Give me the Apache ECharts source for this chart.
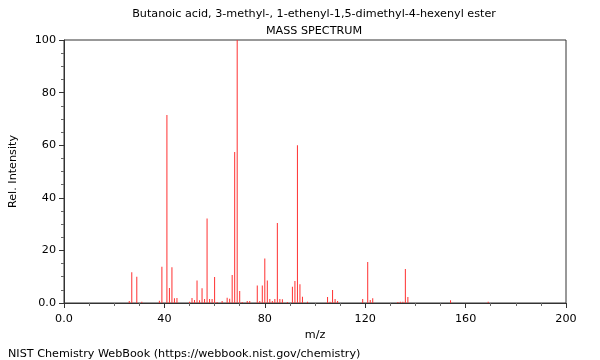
<!DOCTYPE html>
<html>
<head>
<meta charset="utf-8">
<script src="https://cdn.jsdelivr.net/npm/echarts@6/dist/echarts.min.js"></script>
<style>html,body{margin:0;padding:0;background:#fff}#c{width:600px;height:360px}</style>
</head>
<body>
<div id="c"></div>
<script>
const titleText = "Butanoic acid, 3-methyl-, 1-ethenyl-1,5-dimethyl-4-hexenyl ester";
const subTitle = "MASS SPECTRUM";
const footer = "NIST Chemistry WebBook (https://webbook.nist.gov/chemistry)";
const mz = [26,27,29,31,38,39,41,42,43,44,45,50,51,52,53,54,55,56,57,58,59,60,61,63,65,66,67,68,69,70,71,73,74,77,78,79,80,81,82,83,84,85,86,87,89,91,92,93,94,95,97,105,106,107,108,109,119,121,122,123,133,134,135,136,137,154,169];
const intensity = [0.8,11.7,10.0,0.5,0.9,13.8,71.5,5.7,13.6,1.8,1.9,0.5,1.9,1.1,8.6,1.0,5.6,1.5,32.1,1.5,1.5,9.9,0.4,0.8,2.0,1.6,10.6,57.4,100,4.6,0.4,0.8,0.8,6.7,0.8,6.7,16.9,8.6,1.5,0.8,1.5,30.4,1.5,1.4,0.4,6.2,8.4,60,7.1,2.4,0.5,2.3,0.5,4.9,1.5,0.8,1.5,15.6,1.1,1.8,0.4,0.5,0.5,12.9,2.3,1.0,0.5];

const chart = echarts.init(document.getElementById('c'), null, {renderer: 'canvas'});
const font = 'DejaVu Sans';
const fmt = v => (v === 0 ? '0.0' : String(v));
chart.setOption({
  animation: false,
  textStyle: {fontFamily: font},
  title: [
    {text: titleText, left: 309, top: 4, textAlign: 'center',
     textStyle: {fontSize: 11.2, fontWeight: 'normal', color: '#000', fontFamily: font}},
    {text: subTitle, left: 309, top: 21, textAlign: 'center',
     textStyle: {fontSize: 11.2, fontWeight: 'normal', color: '#000', fontFamily: font}},
    {text: footer, left: 3, top: 344,
     textStyle: {fontSize: 11.2, fontWeight: 'normal', color: '#000', fontFamily: font}}
  ],
  grid: {left: 62, right: 34, top: 40, bottom: 57, show: true, borderColor: '#333', borderWidth: 1, backgroundColor: 'transparent'},
  xAxis: {
    type: 'value', min: 0, max: 200, interval: 40,
    name: 'm/z', nameLocation: 'middle', nameGap: 27,
    nameTextStyle: {fontSize: 11.2, color: '#000', fontFamily: font},
    axisLine: {show: true, onZero: false, lineStyle: {color: '#333'}},
    axisTick: {show: true, length: 5, lineStyle: {color: '#333'}},
    minorTick: {show: true, splitNumber: 4, length: 3, lineStyle: {color: '#666'}},
    splitLine: {show: false},
    axisLabel: {formatter: fmt, fontSize: 11.2, color: '#000', margin: 11, fontFamily: font}
  },
  yAxis: {
    type: 'value', min: 0, max: 100, interval: 20,
    name: 'Rel. Intensity', nameLocation: 'middle', nameGap: 45, nameRotate: 90,
    nameTextStyle: {fontSize: 11.2, color: '#000', fontFamily: font},
    axisLine: {show: true, lineStyle: {color: '#333'}},
    axisTick: {show: true, length: 5, lineStyle: {color: '#333'}},
    minorTick: {show: true, splitNumber: 4, length: 3, lineStyle: {color: '#666'}},
    splitLine: {show: false},
    axisLabel: {formatter: fmt, fontSize: 11.2, color: '#000', margin: 8, fontFamily: font}
  },
  series: [{
    type: 'bar',
    barWidth: 1,
    itemStyle: {color: '#ff3030'},
    data: mz.map((m, i) => [m, intensity[i]])
  }]
});
</script>
</body>
</html>
